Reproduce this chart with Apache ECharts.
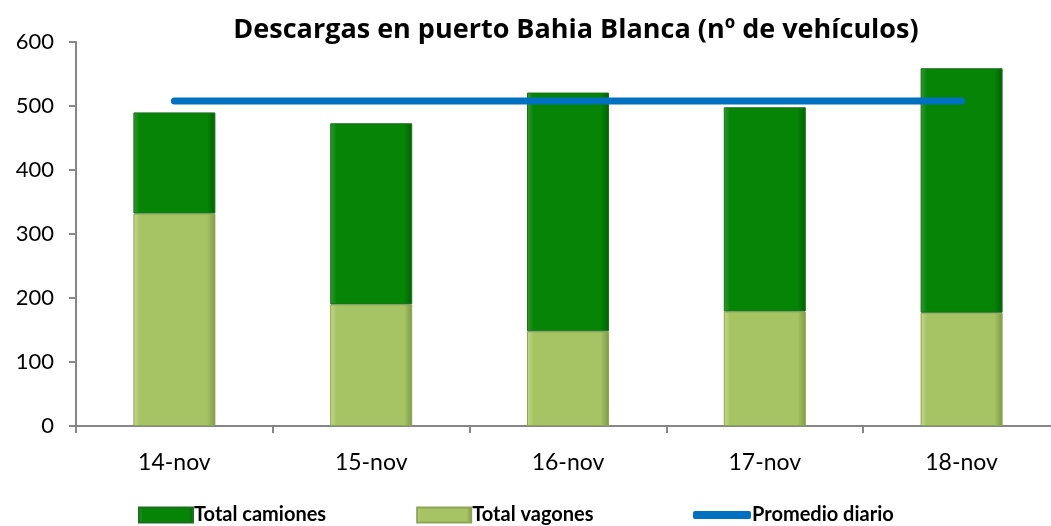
<!DOCTYPE html>
<html>
<head>
<meta charset="utf-8">
<script src="https://cdn.jsdelivr.net/npm/echarts@6/dist/echarts.min.js"></script>
<style>
  html, body { margin: 0; padding: 0; background: #fff; }
  #main { width: 1051px; height: 526px; }
</style>
</head>
<body>
<div id="main"></div>
<script>
  // datos
  const dias = ['14-nov', '15-nov', '16-nov', '17-nov', '18-nov']
  const totalVagones = [332, 190, 148, 179, 177]
  const totalCamiones = [158, 283, 373, 319, 382]
  const promedioDiario = [508, 508, 508, 508, 508]
  const yTicks = [0, 100, 200, 300, 400, 500, 600]

  const font = 'Lato'

  const chart = echarts.init(document.getElementById('main'))

  function barStyle(light, mid, dark, border) {
    return {
      color: new echarts.graphic.LinearGradient(0, 0, 1, 0, [
        { offset: 0, color: light },
        { offset: 0.08, color: mid },
        { offset: 0.9, color: mid },
        { offset: 1, color: dark }
      ]),
      borderColor: border,
      borderWidth: 1
    }
  }

  chart.setOption({
    animation: false,
    title: {
      text: 'Descargas en puerto Bahia Blanca (nº de vehículos)',
      left: 571,
      textAlign: 'center',
      top: 12,
      textStyle: { fontFamily: 'Open Sans', fontWeight: 'bold', fontSize: 27, color: '#000' }
    },
    legend: [{
      data: ['Total camiones', 'Total vagones'],
      left: 133,
      top: 500,
      itemWidth: 54,
      itemHeight: 15,
      itemGap: 90,
      icon: 'rect',
      textStyle: { fontFamily: font, fontWeight: 'bold', fontSize: 20, color: '#000', padding: [0, 0, 0, -4] }
    }, {
      data: ['Promedio diario'],
      left: 688,
      top: 500,
      itemWidth: 58,
      itemHeight: 8,
      icon: 'roundRect',
      textStyle: { fontFamily: font, fontWeight: 'bold', fontSize: 20, color: '#000', padding: [0, 0, 0, -4] }
    }],
    grid: {
      left: 76,
      top: 42,
      width: 984,
      height: 384,
      outerBoundsMode: 'none',
      containLabel: false
    },
    xAxis: {
      type: 'category',
      data: dias,
      axisLine: { lineStyle: { color: '#868686', width: 2 } },
      axisTick: { show: true, length: 7, lineStyle: { color: '#868686', width: 2 } },
      axisLabel: { fontFamily: font, fontSize: 23, color: '#000', margin: 25 }
    },
    yAxis: {
      type: 'value',
      min: yTicks[0],
      max: yTicks[yTicks.length - 1],
      interval: 100,
      splitLine: { show: false },
      axisLine: { show: true, lineStyle: { color: '#868686', width: 2 } },
      axisTick: { show: true, length: 7, lineStyle: { color: '#868686', width: 2 } },
      axisLabel: { fontFamily: font, fontSize: 22, color: '#000', margin: 22 }
    },
    series: [{
      name: 'Total vagones',
      type: 'bar',
      stack: 'total',
      barWidth: 82,
      data: totalVagones,
      itemStyle: barStyle('#c3d98a', '#a6c463', '#7d9a45', '#8ea456')
    }, {
      name: 'Total camiones',
      type: 'bar',
      stack: 'total',
      barWidth: 82,
      data: totalCamiones,
      itemStyle: barStyle('#2f9a2f', '#058405', '#016201', '#1f6e1f')
    }, {
      name: 'Promedio diario',
      type: 'line',
      data: promedioDiario,
      showSymbol: false,
      symbol: 'none',
      lineStyle: { color: '#0070c0', width: 7, cap: 'round' },
      itemStyle: { color: '#0070c0' },
      z: 5
    }]
  })
</script>
</body>
</html>
